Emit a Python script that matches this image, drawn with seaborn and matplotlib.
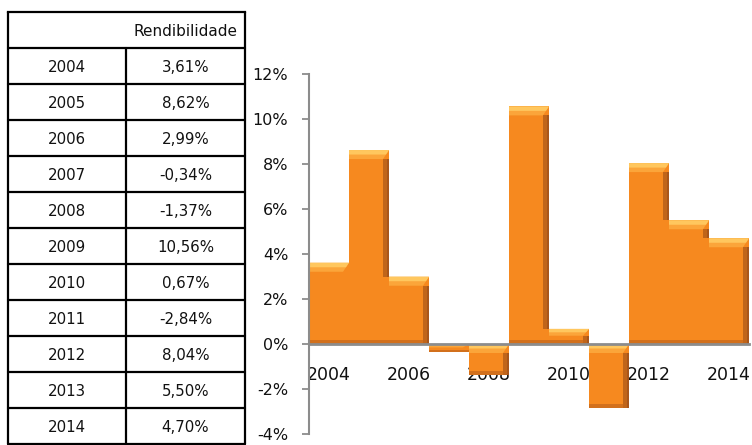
import matplotlib
matplotlib.use("Agg")
import matplotlib.pyplot as plt
from matplotlib.patches import Rectangle, Polygon
from matplotlib.ticker import FuncFormatter
import seaborn as sns
import pandas as pd

years = ["2004", "2005", "2006", "2007", "2008", "2009", "2010", "2011", "2012", "2013", "2014"]
returns = [3.61, 8.62, 2.99, -0.34, -1.37, 10.56, 0.67, -2.84, 8.04, 5.50, 4.70]
header = "Rendibilidade"
y_ticks = [-4, -2, 0, 2, 4, 6, 8, 10, 12]

sns.set_theme(style="white")
plt.rcParams['font.family'] = ['DejaVu Sans']

W, H = 752, 445
fig = plt.figure(figsize=(W / 100, H / 100), dpi=100)
fig.patch.set_facecolor("white")

# ---------- table (drawn in pixel coordinates) ----------
tab = fig.add_axes([0, 0, 1, 1])
tab.set_xlim(0, W)
tab.set_ylim(H, 0)
tab.axis("off")
x_left, x_mid, x_right = 8, 126, 245
y_top, y_head, row_h = 12, 48, 36
n = len(years)
y_bot = y_head + n * row_h
lw = 1.6
tab.plot([x_left, x_right], [y_top, y_top], color="black", lw=lw, solid_capstyle="projecting")
tab.plot([x_left, x_left], [y_top, y_bot], color="black", lw=lw)
tab.plot([x_right, x_right], [y_top, y_bot], color="black", lw=lw)
tab.plot([x_mid, x_mid], [y_head, y_bot], color="black", lw=lw)
for k in range(n + 1):
    yy = y_head + k * row_h
    tab.plot([x_left, x_right], [yy, yy], color="black", lw=lw)
tab.text((x_mid + x_right) / 2, (y_top + y_head) / 2 + 1, header, ha="center", va="center",
         fontsize=11, color="#111111")
for k, (yr, v) in enumerate(zip(years, returns)):
    yc = y_head + k * row_h + row_h / 2 + 1
    tab.text((x_left + x_mid) / 2, yc, yr, ha="center", va="center", fontsize=10.8, color="#111111")
    tab.text((x_mid + x_right) / 2, yc, f"{v:.2f}%".replace(".", ","), ha="center", va="center",
             fontsize=10.8, color="#111111")

# ---------- bar chart ----------
ax = fig.add_axes([309 / W, 11 / H, 440 / W, 360 / H])
df = pd.DataFrame({"year": years, "ret": returns})
main_c = "#F6891F"
sns.barplot(data=df, x="year", y="ret", order=years, color=main_c, saturation=1,
            width=1.0, ax=ax, linewidth=0, edgecolor="none")
ax.set_xlim(-0.5, n - 0.5)
ax.set_ylim(-4, 12)

# bevel effect derived from each bar patch
px_x = n / 440.0
px_y = 16 / 360.0
bars = sorted(ax.patches, key=lambda p: p.get_x())
spans = [(min(p.get_y(), p.get_y() + p.get_height()), max(p.get_y(), p.get_y() + p.get_height()))
         for p in bars]


def subtract(a, b):
    """interval a minus interval b -> list of intervals"""
    out = []
    if b[0] > a[0]:
        out.append((a[0], min(a[1], b[0])))
    if b[1] < a[1]:
        out.append((max(a[0], b[1]), a[1]))
    return [s for s in out if s[1] - s[0] > 1e-9]


for i, p in enumerate(bars):
    x, w = p.get_x(), p.get_width()
    bot, top = spans[i]
    hh = top - bot
    t_light = min(9 * px_y, hh * 0.45)
    t_dark_b = min(4 * px_y, hh * 0.25)
    r_dark = 6 * px_x
    # bottom darker
    ax.add_patch(Rectangle((x, bot), w, t_dark_b, color="#D2701C", lw=0, zorder=1.3))
    # top highlight (two tones, bevelled right corner)
    d = t_light
    ax.add_patch(Polygon([(x, top), (x + w, top), (x + w - r_dark, top - d), (x, top - d)],
                         closed=True, color="#FBA53A", lw=0, zorder=1.3))
    d2 = t_light * 0.5
    ax.add_patch(Polygon([(x, top), (x + w, top), (x + w - r_dark * 0.5, top - d2), (x, top - d2)],
                         closed=True, color="#FFC75E", lw=0, zorder=1.4))
    # right dark side: only the part not hidden by the next bar
    vis = [(bot, top - d)]
    if i + 1 < len(bars):
        vis = subtract((bot, top - d), spans[i + 1])
    for (a, b) in vis:
        ax.add_patch(Rectangle((x + w - r_dark, a), r_dark, b - a, color="#C0651A", lw=0, zorder=1.5))
        ax.add_patch(Rectangle((x + w - r_dark * 0.4, a), r_dark * 0.4, b - a, color="#A9561A",
                               lw=0, zorder=1.6))

# axes styling
grey = "#8C8C8C"
for s in ["top", "right"]:
    ax.spines[s].set_visible(False)
ax.spines["left"].set_color(grey)
ax.spines["left"].set_linewidth(1.5)
ax.spines["bottom"].set_position(("data", 0))
ax.spines["bottom"].set_color(grey)
ax.spines["bottom"].set_linewidth(2)
ax.spines["bottom"].set_zorder(3)
ax.set_yticks(y_ticks)
ax.yaxis.set_major_formatter(FuncFormatter(lambda v, _: f"{v:.0f}%"))
ax.tick_params(axis="y", which="major", left=True, length=5, width=1.3, color=grey,
               pad=10, labelsize=11.5, labelcolor="#111111")
ax.set_xticks(range(0, n, 2))
ax.set_xticklabels(years[::2])
ax.tick_params(axis="x", bottom=False, length=0, pad=16, labelsize=12.5, labelcolor="#111111")
ax.set_xlabel("")
ax.set_ylabel("")
ax.set_facecolor("none")
ax.grid(False)

fig.savefig("out.png", dpi=100, facecolor="white")
